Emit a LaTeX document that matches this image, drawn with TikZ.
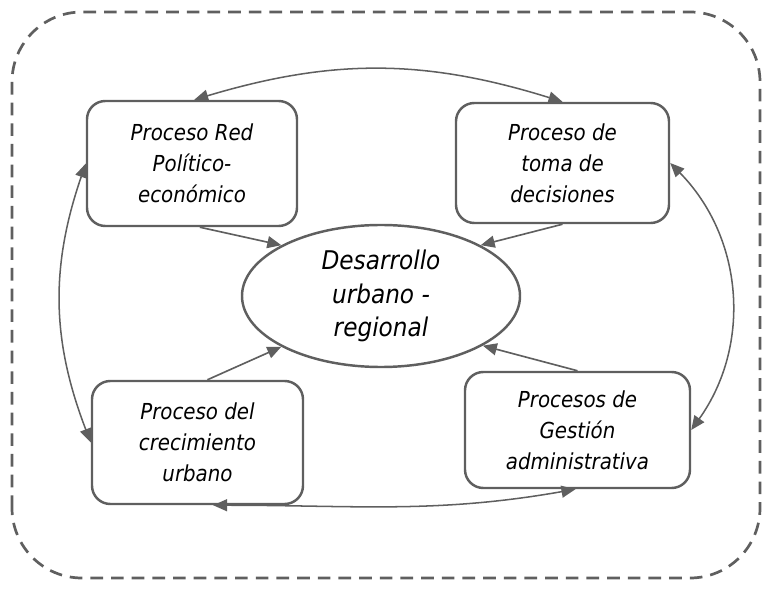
\documentclass[tikz,border=0pt]{standalone}
\usepackage{fontspec}
\setmainfont{DejaVu Sans}[FakeStretch=0.9]
\usepackage{xcolor}
\usepackage{tikz}
\usetikzlibrary{shapes.geometric,arrows.meta}
\definecolor{lineagris}{HTML}{5F5F5F}

\begin{document}
\begin{tikzpicture}[x=0.03cm,y=0.03cm,
    proceso/.style={draw=lineagris,line width=2.1pt,rounded corners=0.55cm,
        align=center,font=\itshape\fontsize{18.8}{26.4}\selectfont,inner sep=0pt},
    nucleo/.style={draw=lineagris,line width=2.1pt,ellipse,inner sep=0pt,
        align=center,font=\itshape\fontsize{22}{28.5}\selectfont},
    flecha/.style={draw=lineagris,line width=1.4pt,-{Triangle[length=0.42cm,width=0.36cm]}},
    doble/.style={draw=lineagris,line width=1.3pt,
        {Triangle[length=0.42cm,width=0.36cm]}-{Triangle[length=0.42cm,width=0.36cm]}}]
    \useasboundingbox (0,0) rectangle (766,588);

    % marco punteado
    \draw[draw=lineagris,line width=2.3pt,dash pattern=on 0.38cm off 0.24cm,
        rounded corners=2.1cm] (12,10) rectangle (760,576);

    % nodos
    \node[nucleo,minimum width=8.34cm,minimum height=4.26cm] (des) at (381,292)
        {Desarrollo\\urbano -\\regional};
    \node[proceso,minimum width=6.3cm,minimum height=3.75cm] (red) at (192,424.5)
        {Proceso Red\\Político-\\económico};
    \node[proceso,minimum width=6.39cm,minimum height=3.6cm] (dec) at (562.5,425)
        {Proceso de\\toma de\\decisiones};
    \node[proceso,minimum width=6.33cm,minimum height=3.69cm] (crec) at (197.5,145.5)
        {Proceso del\\crecimiento\\urbano};
    \node[proceso,minimum width=6.75cm,minimum height=3.48cm] (gest) at (577.5,158)
        {Procesos de\\Gestión\\administrativa};

    % hacia el centro
    \draw[flecha] (red.-83) -- (des.153);
    \draw[flecha] (dec.south) -- (des.27);
    \draw[flecha] (crec.81) -- (des.207);
    \draw[flecha] (gest.north) -- (des.334);

    % relaciones entre procesos
    \draw[doble] (red.88) to[bend left=17] (dec.north);
    \draw[doble] (red.west) to[bend right=20] (crec.west);
    \draw[doble] (dec.east) to[bend left=40] (gest.east);
    \draw[doble] (crec.-76) to[out=0,in=190] (gest.-92);
\end{tikzpicture}
\end{document}
